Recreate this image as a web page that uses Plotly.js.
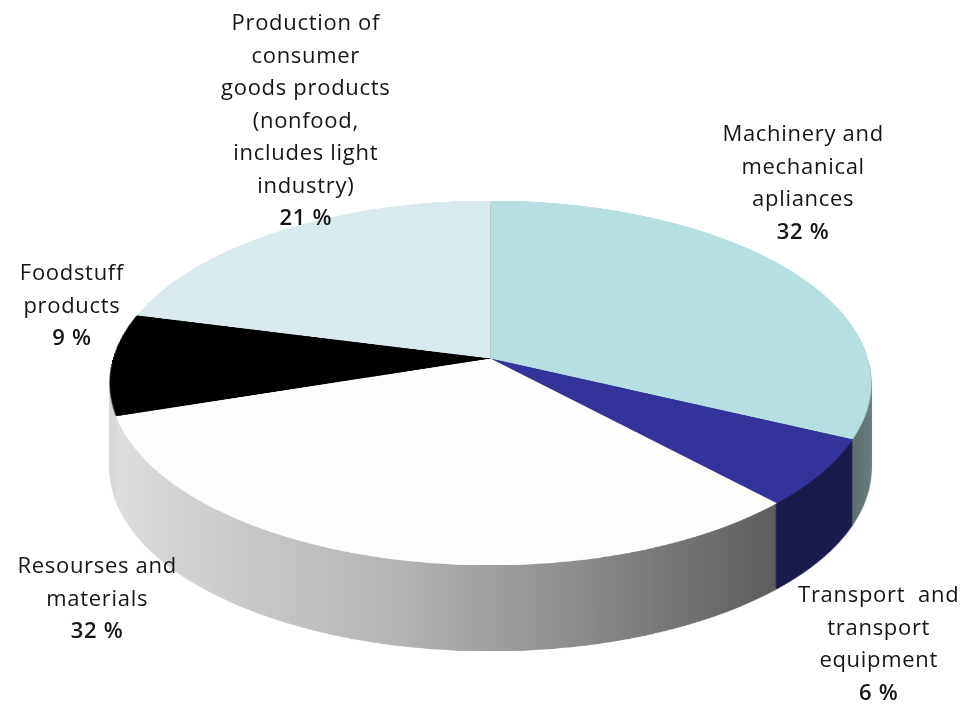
<!DOCTYPE html>
<html><head><meta charset="utf-8">
<script src="https://cdn.plot.ly/plotly-3.0.1.min.js"></script>
<style>
html,body{margin:0;padding:0;background:#fff;width:965px;height:707px;overflow:hidden;}
#stack{position:absolute;left:0;top:0;width:965px;height:707px;}
.layer{position:absolute;left:112.5px;top:-19.5px;width:755px;height:755px;transform-origin:50% 50%;}
#labels{position:absolute;left:0;top:0;width:965px;height:707px;}
#labels text{letter-spacing:0.7px;}
#gdefs{position:absolute;width:0;height:0;}
</style></head><body>
<svg id="gdefs" width="0" height="0"><defs>
<linearGradient id="resGrad" x1="0" x2="1" y1="0" y2="0">
<stop offset="0" stop-color="#DEDEDE"/><stop offset="0.45" stop-color="#B4B4B4"/><stop offset="1" stop-color="#5C5C5C"/>
</linearGradient>
<linearGradient id="machGrad" x1="0" x2="1" y1="0" y2="0">
<stop offset="0" stop-color="#4A5A5A"/><stop offset="0.8" stop-color="#4A5A5A"/><stop offset="1" stop-color="#6E8080"/>
</linearGradient>
</defs></svg>
<div id="stack"></div><div id="labels"></div>
<script>
// ---- data ----
const categories = [
  "Machinery and<br>mechanical<br>apliances",
  "Transport  and<br>transport<br>equipment",
  "Resourses and<br>materials",
  "Foodstuff<br>products",
  "Production of<br>consumer<br>goods products<br>(nonfood,<br>includes light<br>industry)"
];
const values = [32, 6, 32, 9, 21];

// ---- styles ----
const topColors  = ['#B7DEE1', '#333399', '#FDFDFD', '#000000', '#D8EAED'];
const sideColors = ['#4B5C5C', '#1A1A4A', '#9A9A9A', '#D8D8D8', '#6F7C7E'];
const labelX = [803, 878, 97, 72, 306];
const labelY = [181, 642, 596, 303, 118];

const SIZE = 755, DEPTH = 86, STEP = 2;
const TILT = 'perspective(2480px) rotateX(61.67deg)';
const stack = document.getElementById('stack');

function makeLayer(colors, offset, isSide) {
  const div = document.createElement('div');
  div.className = 'layer';
  div.style.transform = 'translateY(' + offset + 'px) ' + TILT;
  stack.appendChild(div);
  Plotly.newPlot(div, [{
    type:'pie', values: values, labels: categories, sort:false, direction:'clockwise',
    rotation:0, textinfo:'none', hoverinfo:'skip', showlegend:false,
    marker:{colors: colors, line:{width:0}}
  }], {
    width: SIZE, height: SIZE, margin:{l:0,r:0,t:0,b:0},
    paper_bgcolor:'rgba(0,0,0,0)', plot_bgcolor:'rgba(0,0,0,0)',
    showlegend:false, hovermode:false
  }, {staticPlot:true, displayModeBar:false});
  if (isSide) {
    const sl = div.querySelectorAll('.slice path.surface');
    if (sl[2]) sl[2].style.fill = 'url(#resGrad)';
    if (sl[0]) sl[0].style.fill = 'url(#machGrad)';
  }
}
for (let o = DEPTH; o > 0; o -= STEP) makeLayer(sideColors, o, true);
makeLayer(topColors, 0, false);

// ---- labels ----
const annotations = categories.map(function(c, i){
  const lines = c.split('<br>').map(function(l){ return '<span style="font-size:22px">' + l + '</span>'; });
  lines.push('<span style="font-size:22px;font-weight:600">' + values[i] + ' %</span>');
  return {x: labelX[i], y: labelY[i], xref:'x', yref:'y', text: lines.join('<br>'),
    showarrow:false, align:'center', xanchor:'center', yanchor:'middle',
    font:{family:'"Open Sans", Lato, sans-serif', size:25, color:'#151515'}};
});
Plotly.newPlot('labels', [], {
  width:965, height:707, margin:{l:0,r:0,t:0,b:0},
  paper_bgcolor:'rgba(0,0,0,0)', plot_bgcolor:'rgba(0,0,0,0)',
  xaxis:{range:[0,965], visible:false, fixedrange:true},
  yaxis:{range:[707,0], visible:false, fixedrange:true},
  annotations: annotations, showlegend:false
}, {staticPlot:true, displayModeBar:false});
</script></body></html>
